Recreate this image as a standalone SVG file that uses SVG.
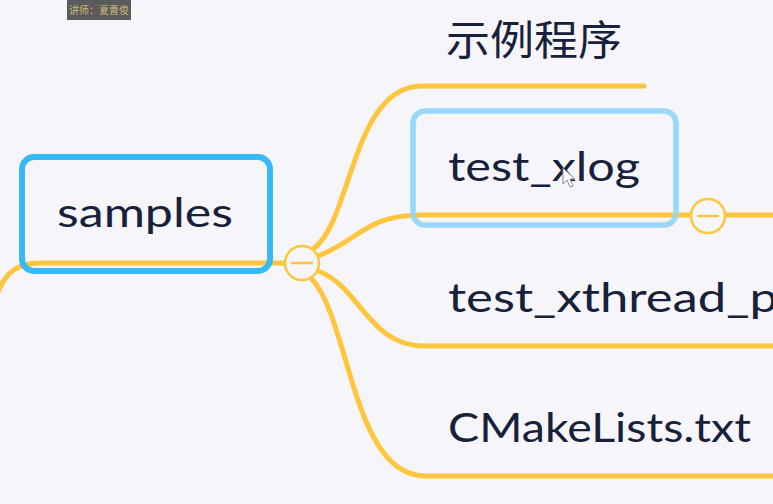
<svg xmlns="http://www.w3.org/2000/svg" width="773" height="504" viewBox="0 0 773 504">
<style>
.bg{fill:#f6f5fa}
.link{fill:none;stroke:#fdc63d;stroke-width:5;stroke-linecap:round}
.fold{fill:#f7f6fa;stroke:#fdc63d;stroke-width:2.5}
.minus{stroke:#fdc63d;stroke-width:2.5}
.lbl{font-family:"Lato","Open Sans","Noto Sans",sans-serif;font-size:40px;fill:#17213a}
.cjk{font-family:"Noto Sans CJK SC","Noto Sans",sans-serif;font-size:41px;fill:#17213a}
</style>
<rect class="bg" x="0" y="0" width="773" height="504"/>
<g id="connectors">
  <path class="link" d="M284 263 L40 263 C18 263 6 272 -2 292"/>
  <path class="link" d="M313 249 C352 222 352 86 422 86 L644 86"/>
  <path class="link" d="M318 256 C360 240 365 215 422 215 L690 215"/>
  <path class="link" d="M726 215 L780 215"/>
  <path class="link" d="M318 271 C360 286 368 346 425 346 L780 346"/>
  <path class="link" d="M311 278 C350 318 352 476 425 476 L780 476"/>
</g>
<g id="node-samples">
  <rect x="22" y="157" width="248" height="114" rx="12" fill="none" stroke="#39b8f6" stroke-width="6"/>
  <text class="lbl" x="57" y="227" textLength="176" lengthAdjust="spacingAndGlyphs">samples</text>
</g>
<g id="fold-samples">
  <circle class="fold" cx="302" cy="263" r="17"/>
  <line class="minus" x1="291" y1="263" x2="313" y2="263"/>
</g>
<g id="node-example">
  <text class="cjk" x="446" y="55" textLength="176" lengthAdjust="spacingAndGlyphs">示例程序</text>
</g>
<g id="node-test-xlog">
  <rect x="413" y="111" width="263" height="114" rx="12" fill="none" stroke="#8fd5f9" stroke-width="5.5" stroke-opacity="0.9"/>
  <text class="lbl" x="448" y="181" textLength="192" lengthAdjust="spacingAndGlyphs">test_xlog</text>
</g>
<g id="fold-test-xlog">
  <circle class="fold" cx="708" cy="216" r="17"/>
  <line class="minus" x1="697" y1="216" x2="719" y2="216"/>
</g>
<g id="node-test-xthread">
  <text class="lbl" x="448" y="312" textLength="330" lengthAdjust="spacingAndGlyphs">test_xthread_p</text>
</g>
<g id="node-cmakelists">
  <text class="lbl" x="448" y="442" textLength="303" lengthAdjust="spacingAndGlyphs">CMakeLists.txt</text>
</g>
<g id="cursor">
  <path d="M563 168 L563 184 L567 180 L570 187 L573 186 L570 179 L575 179 Z" fill="#ffffff" stroke="#8a8a8a" stroke-width="1"/>
</g>
<g id="watermark">
  <rect x="67" y="0" width="64" height="20" fill="#5b5b5b"/>
  <text x="69" y="14" font-family="Noto Sans CJK SC, sans-serif" font-size="10" fill="#cdb877">讲师：夏曹俊</text>
</g>
</svg>
